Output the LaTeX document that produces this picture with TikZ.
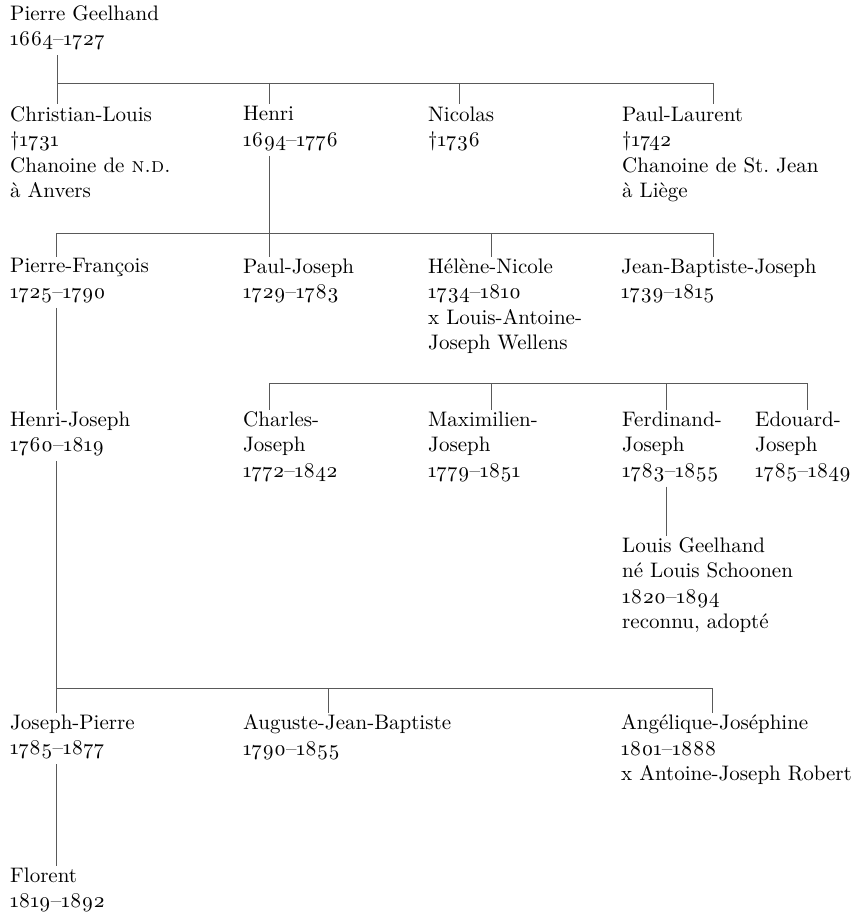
\documentclass[tikz,border=0pt]{standalone}
\usepackage{fontspec}
\setmainfont{lmroman10-regular}[Extension=.otf, Numbers=OldStyle,
  SmallCapsFont=lmromancaps10-regular, ItalicFont=lmroman10-italic,
  BoldFont=lmroman10-bold]

\begin{document}
\begin{tikzpicture}[x=1pt,y=1pt,yscale=-1,xscale=1,
  person/.style={anchor=north west, align=left, inner sep=0pt, outer ysep=2pt,
    font=\fontsize{21}{25.5}\selectfont, text=black,
    execute at begin node={\rule{0pt}{21.5pt}}, execute at end node=\strut},
  link/.style={draw=black!65, line width=0.8pt}]
%set diagram at 866 x 917
\useasboundingbox (0,0) rectangle (866,917);

% Text Node
\node[person] (pierre) at (10,3.5) {Pierre Geelhand\\1664--1727};
% Text Node
\node[person] (christian) at (10,104.5) {Christian-Louis\\\textdagger1731\\Chanoine de \textsc{n.d.}\\à Anvers};
% Text Node
\node[person] (henri) at (243,104.5) {Henri\\1694--1776};
% Text Node
\node[person] (nicolas) at (428,104.5) {Nicolas\\\textdagger1736};
% Text Node
\node[person] (paullaurent) at (622,104.5) {Paul-Laurent\\\textdagger1742\\Chanoine de St.~Jean\\à Liège};

% Text Node
\node[person] (pierrefr) at (10,256.5) {Pierre-François\\1725--1790};
% Text Node
\node[person] (pauljoseph) at (243,256.5) {Paul-Joseph\\1729--1783};
% Text Node
\node[person] (helene) at (428,256.5) {Hélène-Nicole\\1734--1810\\x Louis-Antoine-\\Joseph Wellens};
% Text Node
\node[person] (jeanbaptiste) at (621,256.5) {Jean-Baptiste-Joseph\\1739--1815};

% Text Node
\node[person] (henrijoseph) at (10,409.5) {Henri-Joseph\\1760--1819};
% Text Node
\node[person] (charles) at (243,409.5) {Charles-\\Joseph\\1772--1842};
% Text Node
\node[person] (maximilien) at (428,409.5) {Maximilien-\\Joseph\\1779--1851};
% Text Node
\node[person] (ferdinand) at (622,409.5) {Ferdinand-\\Joseph\\1783--1855};
% Text Node
\node[person] (edouard) at (755,409.5) {Edouard-\\Joseph\\1785--1849};
% Text Node
\node[person] (louis) at (622,535.5) {Louis Geelhand\\né Louis Schoonen\\1820--1894\\reconnu, adopté};

% Text Node
\node[person] (josephpierre) at (10,712.5) {Joseph-Pierre\\1785--1877};
% Text Node
\node[person] (auguste) at (243,712.5) {Auguste-Jean-Baptiste\\1790--1855};
% Text Node
\node[person] (angelique) at (621,712.5) {Angélique-Joséphine\\1801--1888\\x Antoine-Joseph Robert};
% Text Node
\node[person] (florent) at (10,865.5) {Florent\\1819--1892};

% junctions of the bars
\coordinate (j-pierre) at (57,83);
\coordinate (j-henri) at (269,83);
\coordinate (j-nicolas) at (459,83);
\coordinate (j-paullaurent) at (713,83);
\coordinate (j-pierrefr) at (56,233);
\coordinate (j-pauljoseph) at (269,233);
\coordinate (j-helene) at (491,233);
\coordinate (j-jeanbaptiste) at (713,233);
\coordinate (j-charles) at (269,383);
\coordinate (j-maximilien) at (491,383);
\coordinate (j-ferdinand) at (666,383);
\coordinate (j-edouard) at (807,383);
\coordinate (j-josephpierre) at (56,688);
\coordinate (j-auguste) at (328,688);
\coordinate (j-angelique) at (712,688);

% Pierre Geelhand and his sons
\draw[link] (pierre.south -| j-pierre) -- (j-pierre) -- (j-paullaurent);
\draw[link] (j-pierre) -- (christian.north -| j-pierre);
\draw[link] (j-henri) -- (henri.north -| j-henri);
\draw[link] (j-nicolas) -- (nicolas.north -| j-nicolas);
\draw[link] (j-paullaurent) -- (paullaurent.north -| j-paullaurent);

% Henri and his children
\draw[link] (henri.south -| j-pauljoseph) -- (j-pauljoseph);
\draw[link] (j-pierrefr) -- (j-jeanbaptiste);
\draw[link] (j-pierrefr) -- (pierrefr.north -| j-pierrefr);
\draw[link] (j-pauljoseph) -- (pauljoseph.north -| j-pauljoseph);
\draw[link] (j-helene) -- (helene.north -| j-helene);
\draw[link] (j-jeanbaptiste) -- (jeanbaptiste.north -| j-jeanbaptiste);

% Pierre-Francois to Henri-Joseph
\draw[link] (pierrefr.south -| j-pierrefr) -- (henrijoseph.north -| j-pierrefr);

% Charles-Joseph ... Edouard-Joseph
\draw[link] (j-charles) -- (j-edouard);
\draw[link] (j-charles) -- (charles.north -| j-charles);
\draw[link] (j-maximilien) -- (maximilien.north -| j-maximilien);
\draw[link] (j-ferdinand) -- (ferdinand.north -| j-ferdinand);
\draw[link] (j-edouard) -- (edouard.north -| j-edouard);
\draw[link] (ferdinand.south -| j-ferdinand) -- (louis.north -| j-ferdinand);

% Henri-Joseph and his children
\draw[link] (henrijoseph.south -| j-josephpierre) -- (josephpierre.north -| j-josephpierre);
\draw[link] (j-josephpierre) -- (j-angelique);
\draw[link] (j-auguste) -- (auguste.north -| j-auguste);
\draw[link] (j-angelique) -- (angelique.north -| j-angelique);
\draw[link] (josephpierre.south -| j-josephpierre) -- (florent.north -| j-josephpierre);

\end{tikzpicture}
\end{document}
